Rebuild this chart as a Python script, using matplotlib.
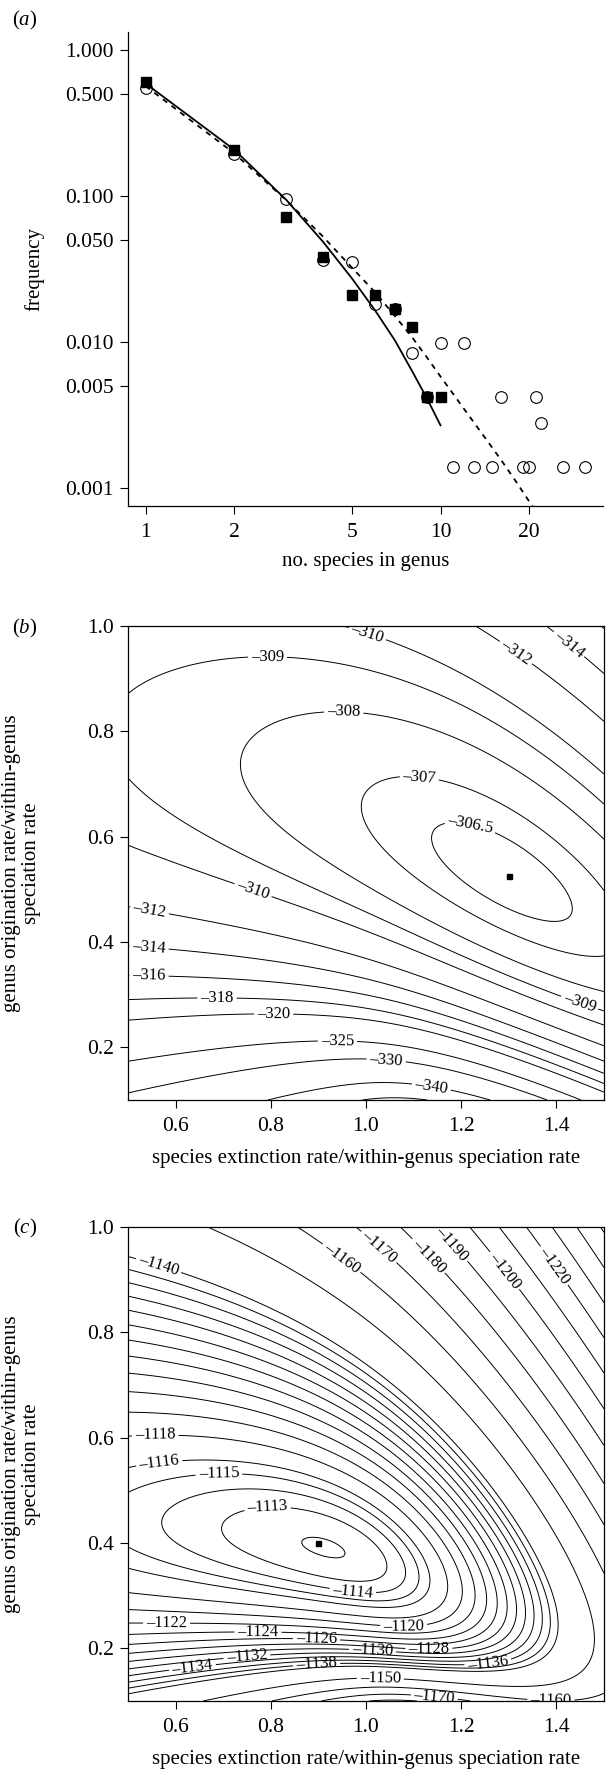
"""Genus-size distribution and likelihood surfaces (a)-(c)"""
import numpy as np
import matplotlib
matplotlib.use("Agg")
import matplotlib.pyplot as plt

# ── data ──
# (a) observed genus sizes: filled squares and open circles
sq_sizes = np.arange(1, 11)
sq_counts = np.array([143, 49, 17, 9, 5, 5, 4, 3, 1, 1])
ci_sizes = np.array([1, 2, 3, 4, 5, 6, 7, 8, 9, 10, 11, 12, 13, 15, 16, 19, 20, 21, 22, 26, 31])
ci_counts = np.array([390, 138, 68, 26, 25, 13, 12, 6, 3, 7, 1, 7, 1, 1, 3, 1, 1, 3, 2, 1, 1])

# fitted distributions (solid: squares, dashed: circles)
fit_sq_x = np.arange(1, 11)
fit_sq_y = [0.586, 0.2065, 0.0938, 0.0484, 0.0274, 0.01648, 0.0103, 0.00637, 0.00412, 0.0027]
fit_ci_x = [1, 2, 3, 4, 5, 6, 7, 8, 9, 10, 12, 14, 16, 18, 20, 21]
fit_ci_y = [0.562, 0.195, 0.0933, 0.0525, 0.0324, 0.0219, 0.0151, 0.01084, 0.00785,
            0.00582, 0.00351, 0.00229, 0.00158, 0.00112, 0.000813, 0.000708]

x_ticks_a = [1, 2, 5, 10, 20]
y_ticks_a = [0.001, 0.005, 0.010, 0.050, 0.100, 0.500, 1.000]

# (b), (c) contour levels, labels (level, x, y) and maximum-likelihood points
levels_b = [-360, -350, -340, -330, -325, -320, -318, -316, -314, -312, -310,
            -309, -308, -307, -306.5]
labels_b = [(-310, 1.00, 0.978), (-312, 1.316, 0.951), (-314, 1.426, 0.965),
            (-309, 0.793, 0.94), (-308, 0.953, 0.831), (-307, 1.112, 0.711),
            (-306.5, 1.214, 0.602), (-310, 0.761, 0.494), (-312, 0.544, 0.453),
            (-314, 0.544, 0.388), (-316, 0.544, 0.332), (-318, 0.687, 0.292),
            (-320, 0.806, 0.262), (-325, 0.94, 0.212), (-330, 1.042, 0.171),
            (-340, 1.136, 0.117), (-309, 1.447, 0.28)]
best_b = (1.30, 0.525)

levels_c = ([-1250, -1240, -1230, -1220, -1210, -1200, -1190, -1180, -1170, -1160, -1150]
            + list(range(-1140, -1115, 2)) + [-1115, -1114, -1113, -1112])
labels_c = [(-1140, 0.565, 0.929), (-1160, 0.949, 0.941), (-1170, 1.03, 0.965),
            (-1180, 1.136, 0.949), (-1190, 1.185, 0.972), (-1200, 1.291, 0.917),
            (-1220, 1.393, 0.925), (-1118, 0.557, 0.613), (-1116, 0.565, 0.558),
            (-1115, 0.691, 0.536), (-1113, 0.793, 0.47), (-1114, 0.973, 0.314),
            (-1120, 1.079, 0.251), (-1122, 0.581, 0.251), (-1124, 0.773, 0.234),
            (-1126, 0.896, 0.22), (-1130, 1.014, 0.202), (-1128, 1.132, 0.204),
            (-1132, 0.749, 0.191), (-1134, 0.634, 0.175), (-1138, 0.896, 0.171),
            (-1136, 1.255, 0.18), (-1150, 1.03, 0.143), (-1170, 1.144, 0.112),
            (-1160, 1.389, 0.116)]
best_c = (0.90, 0.40)


def genus_loglik(sizes, counts, ext, orig):
    """log-likelihood of genus sizes under birth-death within genera plus genus origination"""
    t = np.concatenate([np.linspace(0, 20, 4001), np.linspace(20, 600, 2901)[1:]])
    wt = np.zeros_like(t)
    dt = np.diff(t)
    wt[:-1] += dt / 2
    wt[1:] += dt / 2
    sizes = np.asarray(sizes, dtype=float)
    counts = np.asarray(counts, dtype=float)
    ll = np.empty((len(orig), len(ext)))
    for j, mu in enumerate(ext):
        E = np.exp((1 - mu) * t)
        beta = (E - 1) / (E - mu)
        alive = E * (1 - mu) / (E - mu)
        first = (1 - mu) / (E - mu)
        A = (alive * first)[None, :] * beta[None, :] ** (sizes[:, None] - 1)
        r = 1 + orig - mu
        W = np.exp(-np.outer(r, t)) * wt
        num = W @ A.T
        den = W @ alive
        ll[:, j] = (np.log(num / den[:, None]) * counts).sum(axis=1)
    return ll


ext_grid = np.linspace(0.5, 1.5, 200)
orig_grid = np.linspace(0.1, 1.0, 181)
ll_b = genus_loglik(sq_sizes, sq_counts, ext_grid, orig_grid)
ll_c = genus_loglik(ci_sizes, ci_counts, ext_grid, orig_grid)

# ── style ──
plt.rcParams.update({
    "font.family": ["Liberation Serif", "DejaVu Serif"],
    "mathtext.fontset": "custom",
    "mathtext.rm": "Liberation Serif",
    "mathtext.it": "Liberation Serif:italic",
    "font.size": 15,
    "axes.linewidth": 0.9,
    "xtick.major.size": 6,
    "ytick.major.size": 6,
    "xtick.major.width": 0.8,
    "ytick.major.width": 0.8,
    "xtick.major.pad": 6.5,
    "ytick.major.pad": 4,
    "xtick.labelsize": 15.5,
    "ytick.labelsize": 15.5,
})

W, H = 608, 1771
fig = plt.figure(figsize=(W / 100, H / 100), dpi=100)


def box(left, top, right, bottom):
    return fig.add_axes([left / W, 1 - bottom / H, (right - left) / W, (bottom - top) / H])


ax_a = box(128, 32, 603, 506)
ax_b = box(128, 626, 604, 1100)
ax_c = box(128, 1227, 604, 1701)

# ── (a) ──
ax_a.plot(ci_sizes, ci_counts / ci_counts.sum(), "o", ms=8.4, mfc="none", mec="black", mew=0.8)
ax_a.plot(sq_sizes, sq_counts / sq_counts.sum(), "s", ms=7.7, color="black")
ax_a.plot(fit_sq_x, fit_sq_y, "-", color="black", lw=1.3)
ax_a.plot(fit_ci_x, fit_ci_y, color="black", lw=1.3, linestyle=(0, (3, 3)))
ax_a.set_xscale("log")
ax_a.set_yscale("log")
ax_a.set_xlim(10 ** -0.0597, 10 ** 1.551)
ax_a.set_ylim(10 ** -3.12, 10 ** 0.12)
ax_a.set_xticks(x_ticks_a)
ax_a.set_xticklabels([str(v) for v in x_ticks_a])
ax_a.set_yticks(y_ticks_a)
ax_a.set_yticklabels(["%.3f" % v for v in y_ticks_a])
ax_a.minorticks_off()
ax_a.spines["top"].set_visible(False)
ax_a.spines["right"].set_visible(False)
ax_a.set_xlabel("no. species in genus")
ax_a.xaxis.set_label_coords(0.5, -0.098)
ax_a.set_ylabel("frequency")
ax_a.yaxis.set_label_coords(-0.175, 0.5)


def fmt(v):
    return ("%g" % v).replace("-", "\u2013")


# ── (b), (c) ──
for ax, ll, levels, labs, best in [(ax_b, ll_b, levels_b, labels_b, best_b),
                                   (ax_c, ll_c, levels_c, labels_c, best_c)]:
    # one contour set per level, so each label sits on the level it names
    for lv in levels:
        cs = ax.contour(ext_grid, orig_grid, ll, levels=[lv], colors="black",
                        linewidths=0.7, linestyles="solid")
        spots = [(lx, ly) for v, lx, ly in labs if v == lv]
        if spots:
            ax.clabel(cs, inline=True, fontsize=12, fmt=fmt, manual=spots, inline_spacing=3)
    ax.plot(*best, "s", ms=3.6, color="black")
    ax.set_xlim(0.5, 1.5)
    ax.set_ylim(0.1, 1.0)
    ax.set_xticks([0.6, 0.8, 1.0, 1.2, 1.4])
    ax.set_xticklabels(["0.6", "0.8", "1.0", "1.2", "1.4"])
    ax.set_yticks([0.2, 0.4, 0.6, 0.8, 1.0])
    ax.set_yticklabels(["0.2", "0.4", "0.6", "0.8", "1.0"])
    ax.set_xlabel("species extinction rate/within-genus speciation rate")
    ax.xaxis.set_label_coords(0.5, -0.103)
    ax.set_ylabel("genus origination rate/within-genus\nspeciation rate", linespacing=1.05)
    ax.yaxis.set_label_coords(-0.183, 0.5)

for lab, ypx in [("a", 20), ("b", 628), ("c", 1228)]:
    fig.text(25 / W, 1 - ypx / H, r"($\mathit{%s}$)" % lab, ha="center", va="center")

fig.savefig("out.png", dpi=100)
print("OK")
